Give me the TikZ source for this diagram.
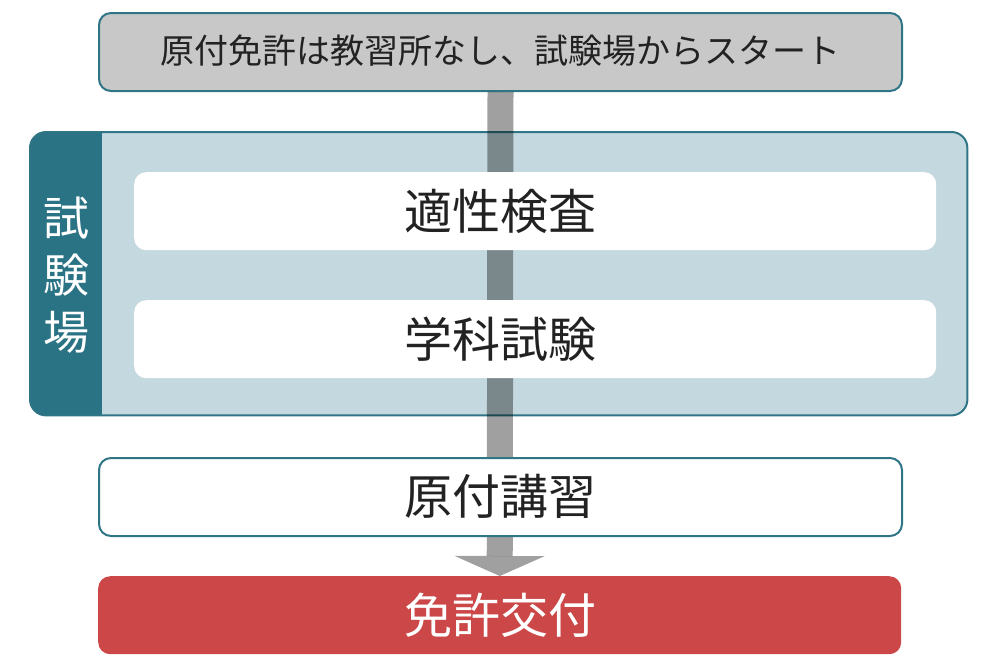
\documentclass[tikz,border=0pt]{standalone}
\usepackage{fontspec}
\setmainfont{Noto Sans CJK JP}
\usetikzlibrary{arrows.meta}
\definecolor{topfill}{HTML}{C8C8C8}
\definecolor{tealline}{HTML}{2F7585}
\definecolor{tabfill}{HTML}{2A7384}
\definecolor{panelfill}{HTML}{C4D9DF}
\definecolor{arrowgray}{HTML}{A0A0A0}
\definecolor{redfill}{HTML}{CC4747}
\definecolor{txt}{HTML}{222222}
\tikzset{
  box/.style={rounded corners=12pt, minimum width=803pt, minimum height=78pt, inner sep=0pt, anchor=north west},
  whitebox/.style={rounded corners=12pt, fill=white, minimum width=802pt, minimum height=78pt, inner sep=0pt, anchor=north west},
  bigtext/.style={font=\fontsize{48}{56}\selectfont, text=txt, inner sep=0pt},
}
\begin{document}
\begin{tikzpicture}[x=1pt,y=-1pt]
\useasboundingbox (0,0) rectangle (1000,667);
% top box
\node[box, fill=topfill, draw=tealline, line width=2pt] (top) at (98,12) {};
\node[font=\fontsize{34}{40}\selectfont, text=txt, inner sep=0pt] (toptext) at (500,51) {原付免許は教習所なし、試験場からスタート};
% panel
\node[rounded corners=16pt, fill=panelfill, minimum width=937pt, minimum height=283pt, inner sep=0pt, anchor=north west] (panel) at (30,132) {};
\begin{scope}
  \path[clip, rounded corners=16pt] (panel.north west) rectangle (panel.south east);
  \fill[tabfill] (30,132) rectangle (102,415);
\end{scope}
\draw[tealline, line width=2pt, rounded corners=16pt] (panel.north west) rectangle (panel.south east);
\node[font=\fontsize{46}{57}\selectfont, text=white, align=center, inner sep=0pt] (tablabel) at (66,275) {試\\験\\場};
% final box (needed for arrow target)
\node[box, fill=redfill] (final) at (98,576) {};
% arrow
\begin{scope}[blend mode=multiply]
  \draw[arrowgray, line width=26pt, -{Triangle[width=90pt,length=20pt,line width=0pt,fill=arrowgray]}] (top.south) -- (final.north);
\end{scope}
% white boxes
\node[whitebox] (b1) at (134,172) {};
\node[bigtext] (t1) at (500,211) {適性検査};
\node[whitebox] (b2) at (134,300) {};
\node[bigtext] (t2) at (500,339) {学科試験};
% 原付講習
\node[box, fill=white, draw=tealline, line width=2pt] (b3) at (98,457) {};
\node[bigtext] (t3) at (500,496) {原付講習};
% final text
\node[bigtext, text=white] (t4) at (500,615) {免許交付};
\end{tikzpicture}
\end{document}
